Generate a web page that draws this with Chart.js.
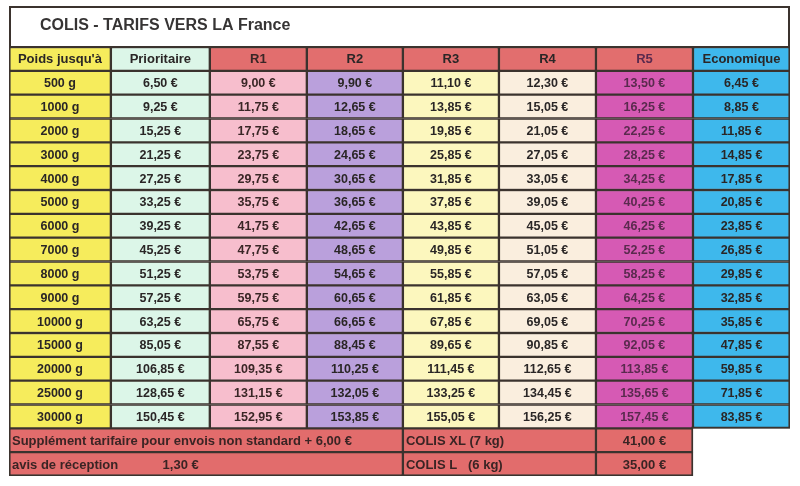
<!DOCTYPE html>
<html>
<head>
<meta charset="utf-8">
<script src="https://cdn.jsdelivr.net/npm/chart.js@4.4.1/dist/chart.umd.min.js"></script>
<style>
html, body { margin: 0; padding: 0; background: #fff; }
#wrap { width: 800px; height: 486px; }
</style>
</head>
<body>
<div id="wrap"><canvas id="tarifs" width="800" height="486"></canvas></div>
<script>
// values
var sheetTitle = 'COLIS - TARIFS VERS LA France';
var weightHeader = 'Poids jusqu\'à';
var weights = [500, 1000, 2000, 3000, 4000, 5000, 6000, 7000, 8000, 9000, 10000, 15000, 20000, 25000, 30000];
var services = ['Prioritaire', 'R1', 'R2', 'R3', 'R4', 'R5', 'Economique'];

var prioritaire = [6.50, 9.25, 15.25, 21.25, 27.25, 33.25, 39.25, 45.25, 51.25, 57.25, 63.25, 85.05, 106.85, 128.65, 150.45];
var r1 = [9.00, 11.75, 17.75, 23.75, 29.75, 35.75, 41.75, 47.75, 53.75, 59.75, 65.75, 87.55, 109.35, 131.15, 152.95];
var r2 = [9.90, 12.65, 18.65, 24.65, 30.65, 36.65, 42.65, 48.65, 54.65, 60.65, 66.65, 88.45, 110.25, 132.05, 153.85];
var r3 = [11.10, 13.85, 19.85, 25.85, 31.85, 37.85, 43.85, 49.85, 55.85, 61.85, 67.85, 89.65, 111.45, 133.25, 155.05];
var r4 = [12.30, 15.05, 21.05, 27.05, 33.05, 39.05, 45.05, 51.05, 57.05, 63.05, 69.05, 90.85, 112.65, 134.45, 156.25];
var r5 = [13.50, 16.25, 22.25, 28.25, 34.25, 40.25, 46.25, 52.25, 58.25, 64.25, 70.25, 92.05, 113.85, 135.65, 157.45];
var economique = [6.45, 8.85, 11.85, 14.85, 17.85, 20.85, 23.85, 26.85, 29.85, 32.85, 35.85, 47.85, 59.85, 71.85, 83.85];

var supplementNote = 'Supplément tarifaire pour envois non standard + 6,00 €';
var avisNote = 'avis de réception';
var avisPrice = 1.30;
var parcelNames = ['COLIS XL (7 kg)', 'COLIS L   (6 kg)'];
var parcelPrices = [41.00, 35.00];

// layout + colours (kept apart from the data)
var colWidths = [1.05, 1.02, 1, 0.99, 0.99, 1, 1, 1];
var headColors = ['#f6ec5c', '#dcf6e8', '#e26e6e', '#e26e6e', '#e26e6e', '#e26e6e', '#e26e6e', '#3eb8ec'];
var bodyColors = ['#f6ec5c', '#dcf6e8', '#f7becd', '#baa0dc', '#fcf7be', '#faeede', '#d65ab4', '#3eb8ec'];
var textColors = ['#2a2626', '#2a2626', '#3a2626', '#2a2626', '#2a2626', '#2a2626', '#5a2a4e', '#2a2626'];
var footRed = '#e26c6c';
var lineColor = '#3b332e';

var colEdges = [0];
colWidths.forEach(function(w){ colEdges.push(colEdges[colEdges.length - 1] + w); });

var rowKeys = ['head'].concat(weights.map(String)).concat(['foot1', 'foot2']);
var bodyRows = weights.length;

function euro(v){
    return v.toFixed(2).replace('.', ',') + ' €';
}

var columns = [weights].concat([prioritaire, r1, r2, r3, r4, r5, economique]);
var headers = [weightHeader].concat(services);

var datasets = columns.map(function(values, c){
    return {
        label: headers[c],
        data: rowKeys.map(function(k, r){
            return r <= bodyRows ? [colEdges[c], colEdges[c + 1]] : null;
        }),
        backgroundColor: rowKeys.map(function(k, r){ return r === 0 ? headColors[c] : bodyColors[c]; }),
        cellText: rowKeys.map(function(k, r){
            if (r === 0) return headers[c];
            if (r > bodyRows) return null;
            return c === 0 ? values[r - 1] + ' g' : euro(values[r - 1]);
        }),
        textColor: textColors[c]
    };
});

function footerRow(a, b, texts, align){
    return {
        label: 'footer',
        data: rowKeys.map(function(k, r){ return r > bodyRows ? [colEdges[a], colEdges[b]] : null; }),
        backgroundColor: footRed,
        cellText: rowKeys.map(function(k, r){ return r > bodyRows ? texts[r - bodyRows - 1] : null; }),
        textColor: '#3a2424',
        align: align,
        footer: true
    };
}

var footLeft = footerRow(0, 4, [supplementNote, avisNote], 'left');
footLeft.extraText = rowKeys.map(function(k, r){ return r === bodyRows + 2 ? euro(avisPrice) : null; });
datasets.push(footLeft);
datasets.push(footerRow(4, 6, parcelNames, 'left'));
datasets.push(footerRow(6, 7, parcelPrices.map(euro), 'center'));

datasets.forEach(function(ds){
    ds.borderColor = lineColor;
    ds.borderWidth = 1.5;
    ds.borderSkipped = false;
    ds.barPercentage = 1;
    ds.categoryPercentage = 1;
    ds.grouped = false;
});

var sheetFrame = {
    id: 'sheetFrame',
    beforeDraw: function(chart){
        var ctx = chart.ctx, ca = chart.chartArea;
        ctx.save();
        ctx.fillStyle = '#fff';
        ctx.fillRect(0, 0, chart.width, chart.height);
        ctx.strokeStyle = lineColor;
        ctx.lineWidth = 2;
        ctx.strokeRect(ca.left + 1, 7, ca.right - ca.left - 2, ca.top - 7);
        ctx.fillStyle = '#363434';
        ctx.font = 'bold 16px "Liberation Sans", Arial, sans-serif';
        ctx.textBaseline = 'middle';
        ctx.fillText(sheetTitle, ca.left + 31, 26);
        ctx.restore();
    },
    afterDatasetsDraw: function(chart){
        // thicker outer edge round the grid, like the printed sheet
        var ctx = chart.ctx, ca = chart.chartArea;
        var lastBody = chart.getDatasetMeta(7).data[bodyRows];
        var priceCell = chart.getDatasetMeta(10).data[bodyRows + 1];
        var bodyBottom = lastBody.y + lastBody.height / 2;
        var footRight = Math.max(priceCell.x, priceCell.base);
        ctx.save();
        ctx.strokeStyle = lineColor;
        ctx.lineWidth = 1.5;
        ctx.beginPath();
        ctx.moveTo(ca.left + 0.75, ca.top);
        ctx.lineTo(ca.left + 0.75, ca.bottom - 0.75);
        ctx.lineTo(footRight - 0.75, ca.bottom - 0.75);
        ctx.lineTo(footRight - 0.75, bodyBottom - 0.75);
        ctx.lineTo(ca.right - 0.75, bodyBottom - 0.75);
        ctx.lineTo(ca.right - 0.75, ca.top);
        ctx.stroke();
        ctx.restore();
    }
};

var cellLabels = {
    id: 'cellLabels',
    afterDatasetsDraw: function(chart){
        var ctx = chart.ctx;
        chart.data.datasets.forEach(function(ds, i){
            var meta = chart.getDatasetMeta(i);
            meta.data.forEach(function(bar, r){
                var txt = ds.cellText[r];
                if (!txt) return;
                var left = Math.min(bar.x, bar.base), right = Math.max(bar.x, bar.base);
                ctx.save();
                ctx.fillStyle = ds.textColor;
                ctx.textBaseline = 'middle';
                var big = r === 0 || ds.footer;
                ctx.font = 'bold ' + (big ? 13 : 12.5) + 'px "Liberation Sans", Arial, sans-serif';
                if (ds.align === 'left') {
                    ctx.textAlign = 'left';
                    ctx.fillText(txt, left + 3, bar.y + 1);
                } else {
                    ctx.textAlign = 'center';
                    ctx.fillText(txt, (left + right) / 2, bar.y + 1);
                }
                if (ds.extraText && ds.extraText[r]) {
                    ctx.textAlign = 'left';
                    ctx.fillText(ds.extraText[r], left + (right - left) * 0.39, bar.y + 1);
                }
                ctx.restore();
            });
        });
    }
};

new Chart(document.getElementById('tarifs'), {
    type: 'bar',
    data: { labels: rowKeys, datasets: datasets },
    options: {
        indexAxis: 'y',
        responsive: false,
        animation: false,
        events: [],
        layout: { padding: { left: 9, right: 10, top: 47, bottom: 10 } },
        scales: {
            x: { type: 'linear', display: false, min: 0, max: colEdges[colEdges.length - 1] },
            y: { type: 'category', display: false, labels: rowKeys }
        },
        plugins: {
            legend: { display: false },
            tooltip: { enabled: false },
            title: { display: false }
        }
    },
    plugins: [sheetFrame, cellLabels]
});
</script>
</body>
</html>
